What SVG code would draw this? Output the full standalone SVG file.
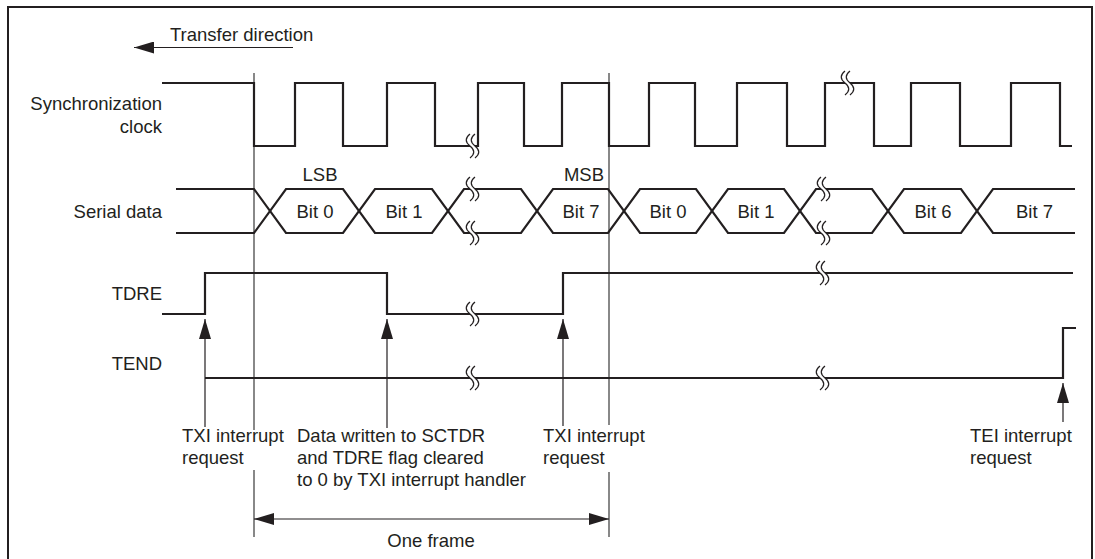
<svg xmlns="http://www.w3.org/2000/svg" xmlns:xlink="http://www.w3.org/1999/xlink" width="1095" height="559" viewBox="0 0 1095 559">
<style>
text{font-family:"Liberation Sans",Arial,Helvetica,sans-serif;font-size:18.5px;fill:#231f20}
.wave{fill:none;stroke:#231f20;stroke-width:2.2;stroke-linejoin:miter}
.guide{fill:none;stroke:#3a3a3a;stroke-width:1.2}
.arr{fill:none;stroke:#231f20;stroke-width:1.2}
.mid{text-anchor:middle}
.end{text-anchor:end}
</style>
<defs>
<g id="brk">
<path d="M-2,-12 c-5,4 -5,8 0,12 c5,4 5,8 0,12 L3,12 c5,-4 5,-8 0,-12 c-5,-4 -5,-8 0,-12 Z" fill="#fff" stroke="none"/>
<path d="M-2,-12 c-5,4 -5,8 0,12 c5,4 5,8 0,12 M3,-12 c-5,4 -5,8 0,12 c5,4 5,8 0,12" fill="none" stroke="#231f20" stroke-width="1.2"/>
</g>
<marker id="ah" viewBox="0 0 20 12" refX="20" refY="6" markerWidth="20" markerHeight="12" markerUnits="userSpaceOnUse" orient="auto">
<path d="M0,0 L20,6 L0,12 Z" fill="#231f20"/>
</marker>
<marker id="ahs" viewBox="0 0 20 12" refX="0" refY="6" markerWidth="20" markerHeight="12" markerUnits="userSpaceOnUse" orient="auto">
<path d="M20,0 L0,6 L20,12 Z" fill="#231f20"/>
</marker>
</defs>

<rect id="frame" x="8" y="7" width="1084" height="570" fill="#fff" stroke="#231f20" stroke-width="2"/>

<g id="transfer-direction">
<text x="170" y="41">Transfer direction</text>
<line class="arr" x1="293" y1="47.5" x2="134" y2="47.5" marker-end="url(#ah)"/>
</g>

<g id="labels">
<text class="end" x="162" y="110">Synchronization</text>
<text class="end" x="162" y="133">clock</text>
<text class="end" x="162" y="218">Serial data</text>
<text class="end" x="162" y="300">TDRE</text>
<text class="end" x="162" y="370">TEND</text>
</g>

<g id="guides">
<path class="guide" d="M254,73 V430 M254,470 V537 M609,73 V425 M609,472 V537"/>
</g>

<g id="sync-clock">
<path class="wave" d="M162,83 H254 V146 H295 V83 H343 V146 H387 V83 H435 V146 H478 V83 H524 V146 H562 V83 H609 V146 H649 V83 H695 V146 H737 V83 H787 V146 H825 V83 H874 V146 H911 V83 H960 V146 H1011 V83 H1060 V146 H1072"/>
<use xlink:href="#brk" x="472" y="146"/>
<use xlink:href="#brk" x="847" y="83"/>
</g>

<g id="serial-data">
<path class="wave" d="M176,189 H254 L286,233 H343 L375,189 H432 L464,233 H521 L553,189 H608 L640,233 H696 L728,189 H784 L816,233 H872 L904,189 H961 L993,233 H1075"/>
<path class="wave" d="M176,233 H254 L286,189 H343 L375,233 H432 L464,189 H521 L553,233 H608 L640,189 H696 L728,233 H784 L816,189 H872 L904,233 H961 L993,189 H1075"/>
<use xlink:href="#brk" x="472" y="189"/>
<use xlink:href="#brk" x="472" y="233"/>
<use xlink:href="#brk" x="823" y="189"/>
<use xlink:href="#brk" x="823" y="233"/>
<text class="mid" x="320" y="181">LSB</text>
<text class="end" x="604" y="181">MSB</text>
<text class="mid" x="315" y="218">Bit 0</text>
<text class="mid" x="404" y="218">Bit 1</text>
<text class="mid" x="581" y="218">Bit 7</text>
<text class="mid" x="668" y="218">Bit 0</text>
<text class="mid" x="756" y="218">Bit 1</text>
<text class="mid" x="933" y="218">Bit 6</text>
<text x="1016" y="218">Bit 7</text>
</g>

<g id="tdre">
<path class="wave" d="M162,314 H205 V273 H387 V314 H563 V273 H1073"/>
<use xlink:href="#brk" x="472" y="314"/>
<use xlink:href="#brk" x="822" y="273"/>
</g>

<g id="tend">
<path class="wave" d="M205,378 H1063 V328 H1076"/>
<use xlink:href="#brk" x="472" y="378"/>
<use xlink:href="#brk" x="822" y="378"/>
</g>

<g id="connectors">
<line class="arr" x1="205" y1="427" x2="205" y2="319" marker-end="url(#ah)"/>
<line class="arr" x1="387" y1="428" x2="387" y2="319" marker-end="url(#ah)"/>
<line class="arr" x1="563" y1="426" x2="563" y2="319" marker-end="url(#ah)"/>
<line class="arr" x1="1063" y1="422" x2="1063" y2="383" marker-end="url(#ah)"/>
<line class="arr" x1="254" y1="519" x2="609" y2="519" marker-start="url(#ahs)" marker-end="url(#ah)"/>
</g>

<g id="annotations">
<text x="182" y="442">TXI interrupt</text>
<text x="182" y="464">request</text>
<text x="297" y="442">Data written to SCTDR</text>
<text x="297" y="464">and TDRE flag cleared</text>
<text x="297" y="486">to 0 by TXI interrupt handler</text>
<text x="543" y="442">TXI interrupt</text>
<text x="543" y="464">request</text>
<text x="970" y="442">TEI interrupt</text>
<text x="970" y="464">request</text>
<text class="mid" x="431" y="547">One frame</text>
</g>
</svg>
